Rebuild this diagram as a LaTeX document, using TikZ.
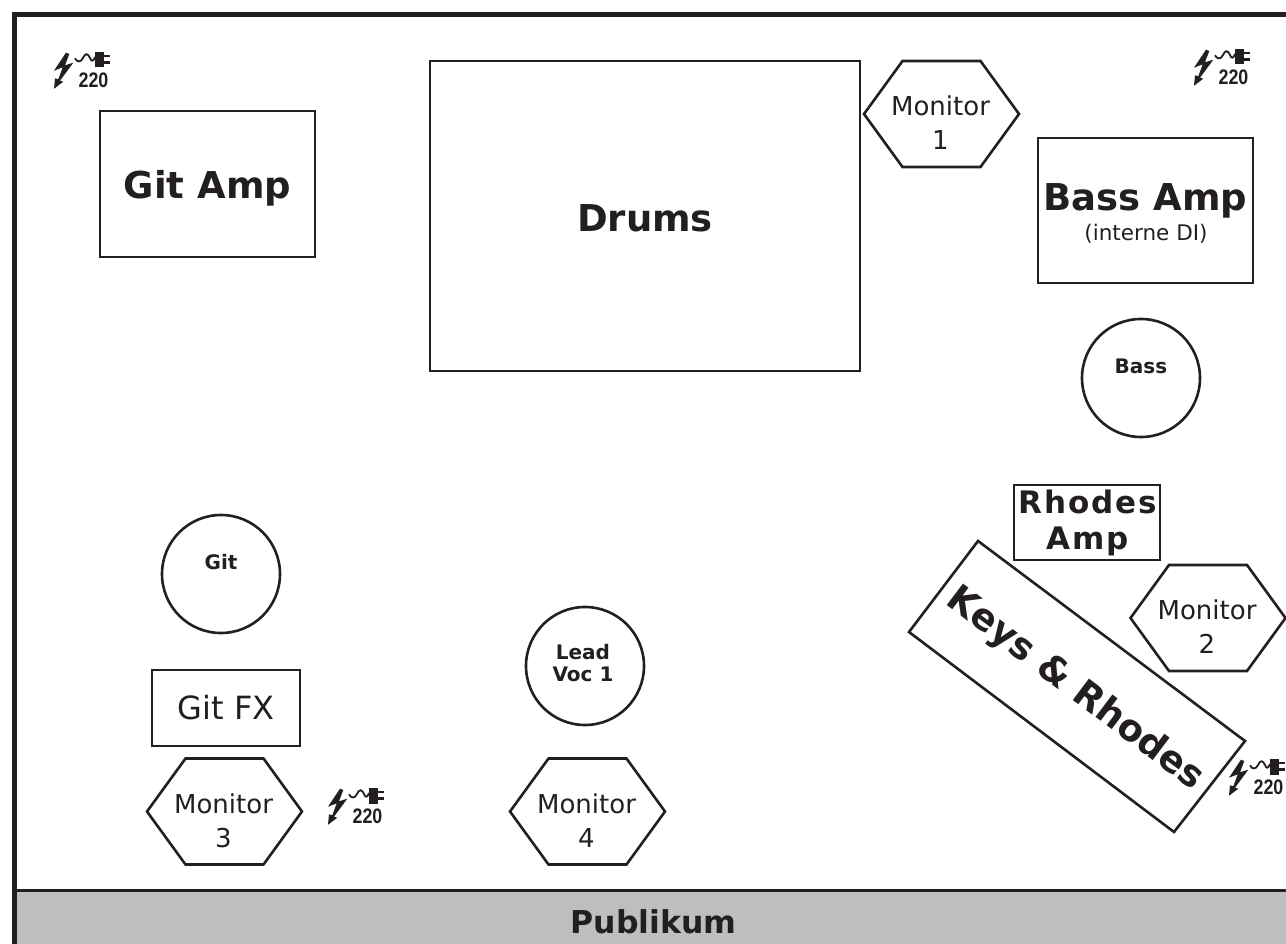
\documentclass[tikz,border=0pt]{standalone}
\usepackage{fontspec}
\setmainfont{DejaVu Sans}
\newfontfamily\narrowfont{Liberation Sans}
\newcommand{\fs}[1]{\fontsize{#1}{#1}\selectfont}
\definecolor{ink}{HTML}{231F20}
\definecolor{aud}{HTML}{BCBEC0}
\tikzset{
  x=1pt,y=-1pt,
  box/.style={draw=ink,line width=2.6pt,inner sep=0pt,outer sep=0pt},
  lbl/.style={text=ink,align=center,inner sep=0pt},
  big/.style={lbl,font=\fs{37}\bfseries},
  mon/.style={lbl,font=\fs{26}},
  small/.style={lbl,font=\fs{20}\bfseries},
  pics/power/.style={code={
    \fill[ink] (14,0.7) -- (2,18.7) -- (10.7,15.3) -- (6.3,27.3) -- (3,26.3) -- (2,36.7) -- (11.3,29.7) -- (8,28.7) -- (21.3,10.7) -- (13,13.3) -- (17.3,2) -- cycle;
    \draw[ink,line width=1.8pt] (23,6.3) .. controls (25,10.5) and (29,10.5) .. (31,6) .. controls (33,1) and (36,1) .. (38,6) .. controls (39.5,10.5) and (41.5,9) .. (43,5);
    \fill[ink] (43,0.2) rectangle (52,15.5);
    \fill[ink] (52,2.7) rectangle (58,5.4);
    \fill[ink] (52,9) rectangle (58,11.7);
    \node[text=ink,inner sep=0pt,anchor=center] at (41.5,28) {\fs{21}\bfseries\narrowfont\scalebox{.85}[1]{220}};
  }}
}
\begin{document}
\begin{tikzpicture}
\useasboundingbox (0,0) rectangle (1286,944);
\fill[white] (0,0) rectangle (1286,944);
\fill[aud] (14,890) rectangle (1286,944);
\draw[ink,line width=2.8pt] (14,890.5) -- (1286,890.5);
\draw[ink,line width=5pt] (14.5,944) -- (14.5,14.5) -- (1286,14.5);

\draw[box] (100,111) rectangle (315,257);
\node[big] (gitamp) at (207.5,188) {Git Amp};
\draw[box] (430,61) rectangle (860,371);
\node[big] (drums) at (645,218) {Drums};
\draw[box] (1038,138) rectangle (1253,283);
\node[big] (bassamp) at (1145.5,201) {Bass Amp};
\node[lbl,font=\fs{21.5}] (di) at (1146,234) {(interne DI)};
\draw[box] (1014,485) rectangle (1160,560);
\node[lbl,font=\fs{31}\bfseries\addfontfeatures{LetterSpace=6}] (rhodesamp) at (1087.5,523) {Rhodes\\[5.5pt]Amp};
\draw[box] (152,670) rectangle (300,746);
\node[lbl,font=\fs{32}] (gitfx) at (226,708) {Git FX};

\draw[box] (978,541) -- (1245,741) -- (1174,832) -- (909,632) -- cycle;
\node[lbl,font=\fs{37}\bfseries,rotate=-37] (keys) at (1075,689.5) {Keys \& Rhodes};

\draw[ink,line width=2.6pt] (1141,378) circle[radius=59];
\node[small] (bass) at (1141,366) {Bass};
\draw[ink,line width=2.6pt] (221,574) circle[radius=59];
\node[small] (git) at (221,562) {Git};
\draw[ink,line width=2.6pt] (585,666) circle[radius=59];
\node[small,align=center] (lead) at (583,663) {Lead\\[2pt]Voc 1};

\foreach \n/\cx/\cy/\t in {m1/941.5/114/{Monitor\\[8pt]1}, m2/1208/618/{Monitor\\[8pt]2}, m3/224.5/811.5/{Monitor\\[8pt]3}, m4/587.5/811.5/{Monitor\\[8pt]4}}{
  \draw[ink,line width=2.6pt] (\cx-77.5,\cy) -- (\cx-39,\cy-53) -- (\cx+39,\cy-53) -- (\cx+77.5,\cy) -- (\cx+39,\cy+53) -- (\cx-39,\cy+53) -- cycle;
  \node[mon] (\n) at (\cx-1,\cy+9) {\t};
}

\pic at (52,52) {power};
\pic at (1192,49) {power};
\pic at (326,788) {power};
\pic at (1227,759) {power};

\node[lbl,font=\fs{31.5}\bfseries] (pub) at (653.5,922) {Publikum};
\end{tikzpicture}
\end{document}
